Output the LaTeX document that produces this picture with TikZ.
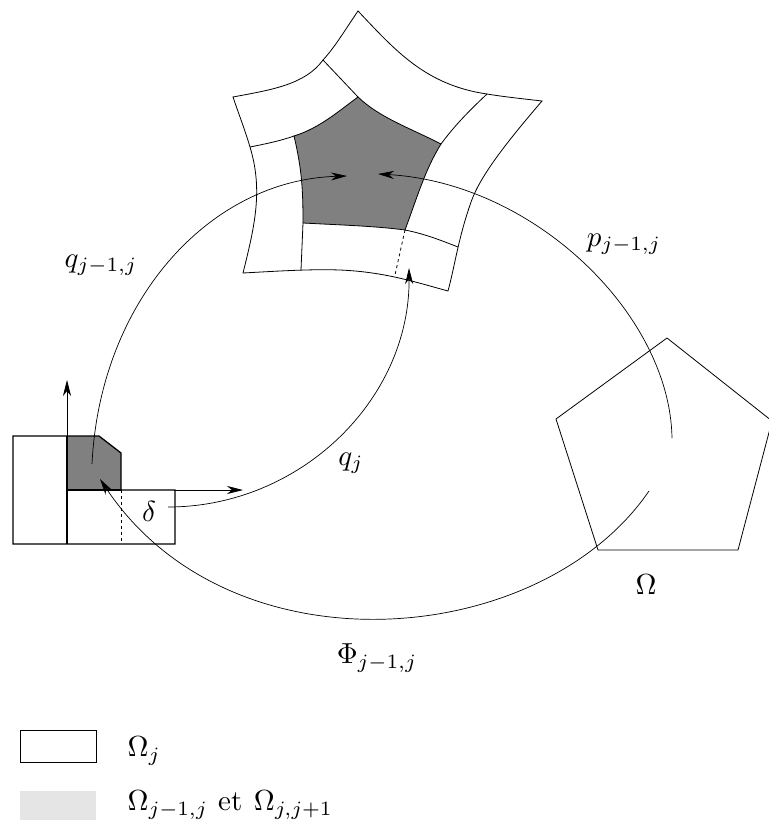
\documentclass[tikz,border=0pt]{standalone}
\usetikzlibrary{arrows.meta}
\tikzset{
  lab/.style={scale=2.9},
  arc/.style={line width=0.7pt,-{Stealth[length=16pt,width=8pt,inset=5pt]}},
  thin line/.style={line width=0.8pt},
  shaded/.style={fill=black!50}
}
\begin{document}
\begin{tikzpicture}[x=1pt,y=-1pt]
  \useasboundingbox (0,0) rectangle (768,824);
  % shaded parts
  \fill[shaded] (294,136) .. controls (320,128) and (340,110) .. (358,97)
    .. controls (380,118) and (410,128) .. (441,144)
    .. controls (425,170) and (418,195) .. (405,230)
    .. controls (375,226) and (340,225) .. (303,223)
    .. controls (303,190) and (302,170) .. (294,136) -- cycle;
  \fill[shaded] (67,436) -- (99,436) -- (121,453) -- (121,490) -- (67,490) -- cycle;
  % deformed star
  \draw[thin line] (358,11) .. controls (395,50) and (425,85) .. (487,94)
    .. controls (505,97) and (525,99) .. (542,101)
    .. controls (500,150) and (478,180) .. (470,205)
    .. controls (458,240) and (455,265) .. (448,291)
    .. controls (415,282) and (385,272) .. (340,270)
    .. controls (310,269) and (280,271) .. (243,273)
    .. controls (255,225) and (263,190) .. (250,147)
    .. controls (245,130) and (238,112) .. (233,97)
    .. controls (270,90) and (305,85) .. (323,60)
    .. controls (335,47) and (345,30) .. (358,11) -- cycle;
  \draw[thin line] (294,136) .. controls (320,128) and (340,110) .. (358,97)
    .. controls (380,118) and (410,128) .. (441,144)
    .. controls (425,170) and (418,195) .. (405,230)
    .. controls (375,226) and (340,225) .. (303,223)
    .. controls (303,190) and (302,170) .. (294,136) -- cycle;
  \draw[thin line] (323,60) -- (358,97);
  \draw[thin line] (487,94) .. controls (470,110) and (455,125) .. (441,144);
  \draw[thin line] (405,230) .. controls (425,234) and (440,240) .. (458,247);
  \draw[thin line] (303,223) -- (301,270);
  \draw[thin line] (294,136) .. controls (280,141) and (265,144) .. (250,147);
  \draw[thin line,dashed] (405,230) -- (395,275);
  % square domain
  \draw[line width=1.3pt] (13,436) -- (99,436) -- (121,453) -- (121,490) -- (175,490)
    -- (175,544) -- (13,544) -- cycle;
  \draw[line width=1.3pt] (67,436) -- (67,544);
  \draw[line width=1.3pt] (67,490) -- (121,490);
  \draw[thin line,dashed] (121,490) -- (121,544);
  \draw[arc] (67,436) -- (67,380);
  \draw[arc] (175,490) -- (243,490);
  % pentagon
  \draw[thin line] (667,338) -- (772,421) -- (738,550) -- (598,550) -- (556,419) -- cycle;
  % maps
  \draw[arc] (92,464) .. controls (100,300) and (210,180) .. (347,176);
  \draw[arc] (672,438) .. controls (670,315) and (535,183) .. (378,174);
  \draw[arc] (168,507) .. controls (300,507) and (410,400) .. (409,268);
  \draw[arc] (649,491) .. controls (540,650) and (230,675) .. (100,479);
  % labels
  \node[lab] (qold) at (101,265) {$q_{j-1,j}$};
  \node[lab] (pold) at (624,244) {$p_{j-1,j}$};
  \node[lab] (qj) at (351,463) {$q_j$};
  \node[lab] (delta) at (149,511) {$\delta$};
  \node[lab] (omega) at (646,585) {$\Omega$};
  \node[lab] (phi) at (377,658) {$\Phi_{j-1,j}$};
  % legend
  \draw[thin line] (20,730) rectangle (96,762);
  \fill[black!10] (20,791) rectangle (96,820);
  \node[lab,anchor=west,inner sep=0pt] (legone) at (127,751) {$\Omega_j$};
  \node[lab,anchor=west,inner sep=0pt] (legtwo) at (127,805) {$\Omega_{j-1,j}$\hspace{3.5pt}et\hspace{4pt}$\Omega_{j,j+1}$};
\end{tikzpicture}
\end{document}
